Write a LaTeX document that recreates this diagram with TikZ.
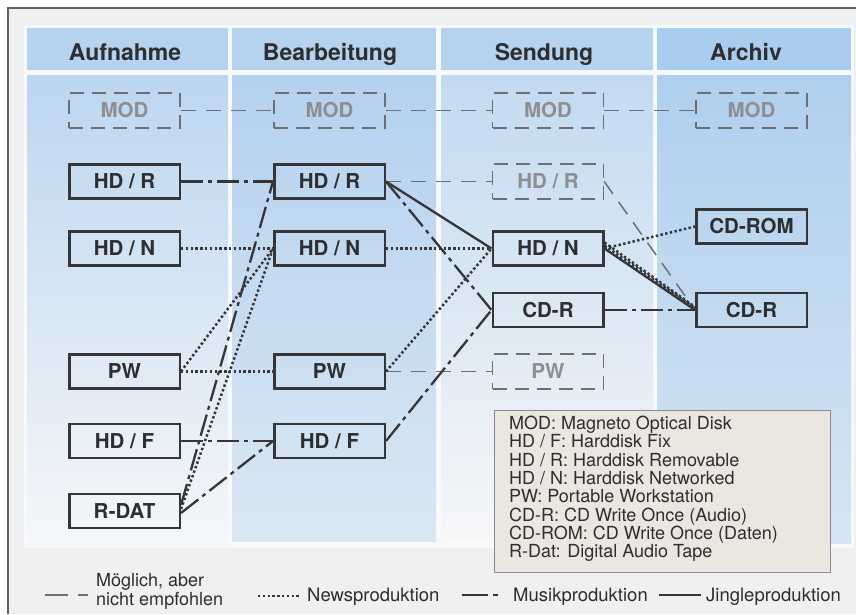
\documentclass[tikz,border=0pt]{standalone}
\usepackage{fontspec}
\setmainfont{TeX Gyre Heros}
\definecolor{framebg}{HTML}{EEF0F2}
\definecolor{framel}{HTML}{606266}
\definecolor{hdr}{HTML}{B5D2EE}
\definecolor{hdrfour}{HTML}{AACCEE}
\definecolor{boxc}{HTML}{363638}
\definecolor{txt}{HTML}{2E2E30}
\definecolor{gline}{HTML}{6E6F72}
\definecolor{gtxt}{HTML}{8E8E90}
\definecolor{lc}{HTML}{363638}
\definecolor{legfill}{HTML}{EAE6E0}
\definecolor{legline}{HTML}{8A8A8C}
\begin{document}
\begin{tikzpicture}[x=1pt,y=-1pt,
  dbox/.style={draw=boxc, line width=2.5pt, minimum width=110.5pt, minimum height=34pt, inner sep=0pt, text=txt, font=\fontsize{20.5}{22}\selectfont\bfseries},
  gbox/.style={draw=gline, line width=1.4pt, dash pattern=on 14pt off 8pt, minimum width=111pt, minimum height=35pt, inner sep=0pt, text=gtxt, font=\fontsize{20.5}{22}\selectfont\bfseries},
  hdrtext/.style={font=\fontsize{23}{24}\selectfont\bfseries, text=txt, anchor=base, inner sep=0pt},
  dsh/.style={draw=gline, line width=1.5pt, dash pattern=on 15pt off 10pt},
  dots/.style={draw=lc, line width=2.5pt, dash pattern=on 2.4pt off 2.4pt},
  mus/.style={draw=lc, line width=2.3pt, dash pattern=on 22pt off 5pt on 4pt off 5pt},
  jin/.style={draw=lc, line width=2.3pt},
  legtext/.style={font=\fontsize{18.5}{18.5}\selectfont, text=txt, inner sep=0pt},
]
\useasboundingbox (0,0) rectangle (856,614);
% frame
\fill[framebg] (8,8) rectangle (856,614);
\draw[framel, line width=1.3pt] (8,614) -- (8,8) -- (856,8);
\fill[white!60!framebg] (24,25) rectangle (854,548);
% column headers
\fill[hdr] (27,28) rectangle (228,70);
\fill[hdr] (232,28) rectangle (436,70);
\fill[hdr] (441,28) rectangle (653,70);
\fill[hdrfour] (657,28) rectangle (851,70);
% column bodies
\shade[top color={rgb,255:red,188;green,214;blue,240}, middle color={rgb,255:red,230;green,238;blue,246}, bottom color={rgb,255:red,245;green,247;blue,249}] (27,75) rectangle (228,545);
\shade[top color={rgb,255:red,180;green,209;blue,239}, middle color={rgb,255:red,200;green,221;blue,241}, bottom color={rgb,255:red,218;green,231;blue,243}] (232,75) rectangle (436,541);
\shade[top color={rgb,255:red,194;green,218;blue,241}, middle color={rgb,255:red,228;green,237;blue,246}, bottom color={rgb,255:red,246;green,247;blue,248}] (441,75) rectangle (653,540);
\shade[top color={rgb,255:red,175;green,207;blue,238}, middle color={rgb,255:red,196;green,219;blue,241}, bottom color={rgb,255:red,214;green,229;blue,243}] (657,75) rectangle (851,543);
% headers
\node[hdrtext] (h1) at (125,60) {Aufnahme};
\node[hdrtext] (h2) at (330,60) {Bearbeitung};
\node[hdrtext] (h3) at (544,60) {Sendung};
\node[hdrtext] (h4) at (746,60) {Archiv};
% boxes column 1
\node[gbox] (m1) at (124.5,110.5) {MOD};
\node[dbox] (r1) at (124.5,181.5) {HD / R};
\node[dbox] (n1) at (124.5,248.5) {HD / N};
\node[dbox] (p1) at (124.5,371.5) {PW};
\node[dbox] (f1) at (124.5,441) {HD / F};
\node[dbox] (rd) at (124.5,511) {R-DAT};
% column 2
\node[gbox] (m2) at (329.5,110.5) {MOD};
\node[dbox] (r2) at (329.5,181.5) {HD / R};
\node[dbox] (n2) at (329.5,248.5) {HD / N};
\node[dbox] (p2) at (329.5,371.5) {PW};
\node[dbox] (f2) at (329.5,441) {HD / F};
% column 3
\node[gbox] (m3) at (548,110.5) {MOD};
\node[gbox] (r3) at (548,181.5) {HD / R};
\node[dbox] (n3) at (548,248.5) {HD / N};
\node[dbox] (c3) at (548,310) {CD-R};
\node[gbox] (p3) at (548,371.5) {PW};
% column 4
\node[gbox] (m4) at (751.5,110.5) {MOD};
\node[dbox] (cr) at (751.5,226.5) {CD-ROM};
\node[dbox] (c4) at (751.5,310) {CD-R};
% dashed connections
\draw[dsh] (m1.east) -- (m2.west);
\draw[dsh] (m2.east) -- (m3.west);
\draw[dsh] (m3.east) -- (m4.west);
\draw[dsh] (r2.east) -- (r3.west);
\draw[dsh] (r3.east) -- (c4.west);
\draw[dsh] (p2.east) -- (p3.west);
% news (dotted)
\draw[dots] (n1.east) -- (n2.west);
\draw[dots] (n2.east) -- (n3.west);
\draw[dots] (p1.east) -- (p2.west);
\draw[dots] (p1.east) -- (n2.west);
\draw[dots] ([yshift=2pt]rd.east) -- (n2.west);
\draw[dots] (p2.east) -- (n3.west);
\draw[dots] (n3.east) -- (cr.west);
\draw[dots] ([yshift=3pt]n3.east) -- ([yshift=2pt]c4.west);
\draw[dots] ([yshift=6pt]n3.east) -- ([yshift=3pt]c4.west);
% music (dash-dot)
\draw[mus] (r1.east) -- (r2.west);
\draw[mus] (f1.east) -- (f2.west);
\draw[mus] ([yshift=-2pt]rd.east) -- (f2.west);
\draw[mus] ([yshift=6pt]rd.east) -- (r2.west);
\draw[mus] (r2.east) -- (c3.west);
\draw[mus] (f2.east) -- (c3.west);
\draw[mus] (c3.east) -- (c4.west);
% jingle (solid)
\draw[jin] (r2.east) -- (n3.west);
\draw[jin] (n3.east) -- (c4.west);
% abbreviation legend
\node[draw=legline, fill=legfill, line width=1.1pt, minimum width=336pt, minimum height=162pt, inner sep=0pt] (lb) at (662.5,491.5) {};
\node[anchor=north west, align=left, font=\fontsize{18}{18.3}\selectfont, text=txt, inner sep=0pt] (lt) at ([xshift=15pt,yshift=-6pt]lb.north west)
{MOD: Magneto Optical Disk\\
HD / F: Harddisk Fix\\
HD / R: Harddisk Removable\\
HD / N: Harddisk Networked\\
PW: Portable Workstation\\
CD-R: CD Write Once (Audio)\\
CD-ROM: CD Write Once (Daten)\\
R-Dat: Digital Audio Tape};
% line-type legend
\coordinate (la) at (45,595);
\coordinate (lb2) at (88,595);
\draw[draw=gline, line width=1.6pt, dash pattern=on 23pt off 10pt on 10pt off 10pt] (la) -- (lb2);
\node[anchor=base west, align=left, font=\fontsize{18}{16.5}\selectfont, text=txt, inner sep=0pt] (lm) at (96,605) {Möglich, aber\\nicht empfohlen};
\coordinate (na) at (258,596);
\coordinate (nb) at (299,596);
\draw[dots] (na) -- (nb);
\node[legtext, anchor=base west] (ln) at (307,601) {Newsproduktion};
\coordinate (ma) at (462,595);
\coordinate (mb) at (499,595);
\draw[draw=lc, line width=2.3pt, dash pattern=on 26pt off 5pt on 5pt off 5pt] (ma) -- (mb);
\node[legtext, anchor=base west] (lmu) at (513,601) {Musikproduktion};
\coordinate (ja) at (659,595);
\coordinate (jb) at (701,595);
\draw[jin] (ja) -- (jb);
\node[legtext, anchor=base west] (lj) at (706,601) {Jingleproduktion};
\end{tikzpicture}
\end{document}
